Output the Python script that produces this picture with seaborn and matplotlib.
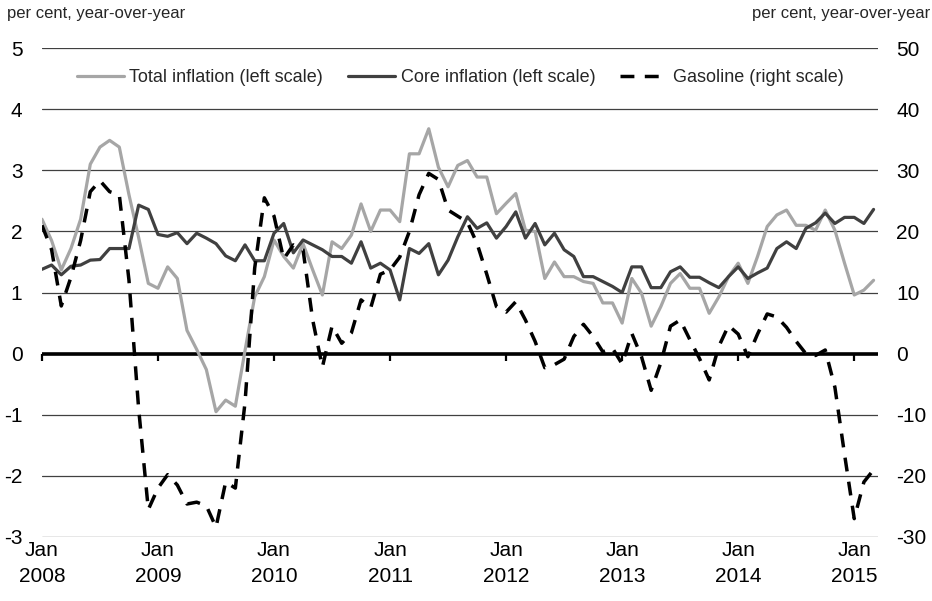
import numpy as np
import pandas as pd
import matplotlib
matplotlib.use("Agg")
import matplotlib.pyplot as plt
import seaborn as sns

# monthly, Jan 2008 .. Mar 2015
months = pd.date_range("2008-01-01", "2015-03-01", freq="MS")

total_inflation = [
    2.2, 1.85, 1.37, 1.72, 2.2, 3.1, 3.38, 3.49, 3.38, 2.6, 1.9, 1.15,
    1.07, 1.42, 1.23, 0.38, 0.07, -0.26, -0.95, -0.76, -0.86, 0.05, 0.93, 1.26,
    1.86, 1.59, 1.4, 1.8, 1.37, 0.96, 1.83, 1.72, 1.94, 2.45, 2.0, 2.35,
    2.35, 2.16, 3.27, 3.27, 3.68, 3.05, 2.73, 3.08, 3.16, 2.89, 2.89, 2.29,
    2.46, 2.62, 2.02, 2.0, 1.23, 1.5, 1.26, 1.26, 1.18, 1.15, 0.83, 0.83,
    0.5, 1.23, 0.99, 0.45, 0.77, 1.15, 1.31, 1.07, 1.07, 0.66, 0.93, 1.26,
    1.48, 1.15, 1.59, 2.08, 2.27, 2.35, 2.1, 2.1, 2.02, 2.35, 2.02, 1.48,
    0.96, 1.04, 1.2,
]
core_inflation = [
    1.38, 1.45, 1.29, 1.43, 1.45, 1.53, 1.54, 1.72, 1.72, 1.72, 2.43, 2.36,
    1.95, 1.92, 1.98, 1.8, 1.97, 1.89, 1.8, 1.6, 1.52, 1.78, 1.52, 1.52,
    1.97, 2.13, 1.65, 1.86, 1.78, 1.7, 1.59, 1.59, 1.48, 1.83, 1.4, 1.48,
    1.37, 0.88, 1.72, 1.64, 1.8, 1.29, 1.53, 1.91, 2.24, 2.05, 2.14, 1.89,
    2.08, 2.32, 1.89, 2.13, 1.78, 1.97, 1.7, 1.59, 1.26, 1.26, 1.18, 1.1,
    1.0, 1.42, 1.42, 1.08, 1.08, 1.34, 1.42, 1.25, 1.25, 1.16, 1.08, 1.26,
    1.42, 1.23, 1.32, 1.4, 1.72, 1.83, 1.72, 2.05, 2.14, 2.3, 2.13, 2.23,
    2.23, 2.13, 2.36,
]
gasoline = [
    21, 17, 7.8, 12.5, 18.5, 26.5, 28.3, 26.5, 26, 12, -9, -25.5,
    -22, -19.8, -21.5, -24.6, -24.3, -24.9, -28.4, -21, -22, -8, 14, 25.5,
    22.5, 15.5, 17.8, 17, 5.5, -2.2, 4.5, 1.7, 3.4, 8.8, 7.5, 13,
    13.7, 15.8, 20, 26, 29.5, 28.5, 23.5, 22.5, 21.5, 18, 13, 7.7,
    6.8, 8.5, 5.5, 2, -2.3, -1.8, -0.9, 2.8, 4.8, 2.8, 0.3, 0.9,
    -1.7, 3.3, -0.5, -6, -1.5, 4.5, 5.5, 2.3, -0.8, -4.3, 1.2, 4.6,
    3.2, -0.5, 3.2, 6.5, 6.0, 4.3, 2.0, 0.0, -0.3, 0.6, -5.5, -16.5,
    -27, -21, -19,
]

left_ticks = [-3, -2, -1, 0, 1, 2, 3, 4, 5]
right_ticks = [-30, -20, -10, 0, 10, 20, 30, 40, 50]
year_labels = ["Jan\n2008", "Jan\n2009", "Jan\n2010", "Jan\n2011",
               "Jan\n2012", "Jan\n2013", "Jan\n2014", "Jan\n2015"]

df = pd.DataFrame({
    "mes": np.arange(len(months)),
    "total": total_inflation,
    "core": core_inflation,
    "gasoline": gasoline,
})

sns.set_theme(style="white")
plt.rcParams["font.family"] = ["Liberation Sans", "DejaVu Sans"]
plt.rcParams["axes.unicode_minus"] = False

fig = plt.figure(figsize=(9.32, 6.01), dpi=100)
ax = fig.add_axes([0.045, 0.1065, 0.8975, 0.8135])
ax2 = ax.twinx()

sns.lineplot(data=df, x="mes", y="total", ax=ax, color="#A6A6A6", lw=2.3,
             label="Total inflation (left scale)", zorder=3)
sns.lineplot(data=df, x="mes", y="core", ax=ax, color="#404040", lw=2.3,
             label="Core inflation (left scale)", zorder=4)
sns.lineplot(data=df, x="mes", y="gasoline", ax=ax2, color="black", lw=2.5,
             linestyle=(0, (4, 3)), label="Gasoline (right scale)", zorder=5)

for a in (ax, ax2):
    if a.get_legend() is not None:
        a.get_legend().remove()
    for s in a.spines.values():
        s.set_visible(False)
    a.set_xlabel("")
    a.set_ylabel("")

ax.set_xlim(0, 86.5)
ax.set_ylim(-3, 5)
ax2.set_ylim(-30, 50)

ax.set_yticks(left_ticks)
ax.set_yticklabels([str(v) for v in left_ticks])
ax2.set_yticks(right_ticks)
ax2.set_yticklabels([str(v) for v in right_ticks])
ax.tick_params(axis="y", length=0, pad=14, labelsize=15, colors="black")
ax2.tick_params(axis="y", length=0, pad=13, labelsize=15, colors="black")

ax.set_xticks(np.arange(0, len(months), 12))
ax.set_xticklabels(year_labels)
ax.tick_params(axis="x", length=0, pad=3, labelsize=15, colors="black")
for lbl in ax.get_xticklabels():
    lbl.set_linespacing(1.45)

ax.yaxis.grid(True, color="#404040", lw=0.9)
ax.xaxis.grid(False)
ax.set_axisbelow(True)
ax.axhline(0, color="black", lw=2.6, zorder=2)

# little tick marks hanging under the zero line
sec = ax.secondary_xaxis(3 / 8)
sec.set_xticks(np.arange(0, len(months), 12))
sec.tick_params(axis="x", direction="out", length=5, width=1.6,
                color="black", labelbottom=False)
for s in sec.spines.values():
    s.set_visible(False)

h1, l1 = ax.get_legend_handles_labels()
h2, l2 = ax2.get_legend_handles_labels()
ax2.legend(h1 + h2, l1 + l2, loc="center", bbox_to_anchor=(0.5, 0.939),
           ncol=3, frameon=False, fontsize=13, handlelength=2.6,
           handletextpad=0.3, columnspacing=1.4)

fig.text(0.008, 0.977, "per cent, year-over-year", ha="left", va="center",
         fontsize=12)
fig.text(0.998, 0.977, "per cent, year-over-year", ha="right", va="center",
         fontsize=12)

fig.savefig("out.png", dpi=100)
